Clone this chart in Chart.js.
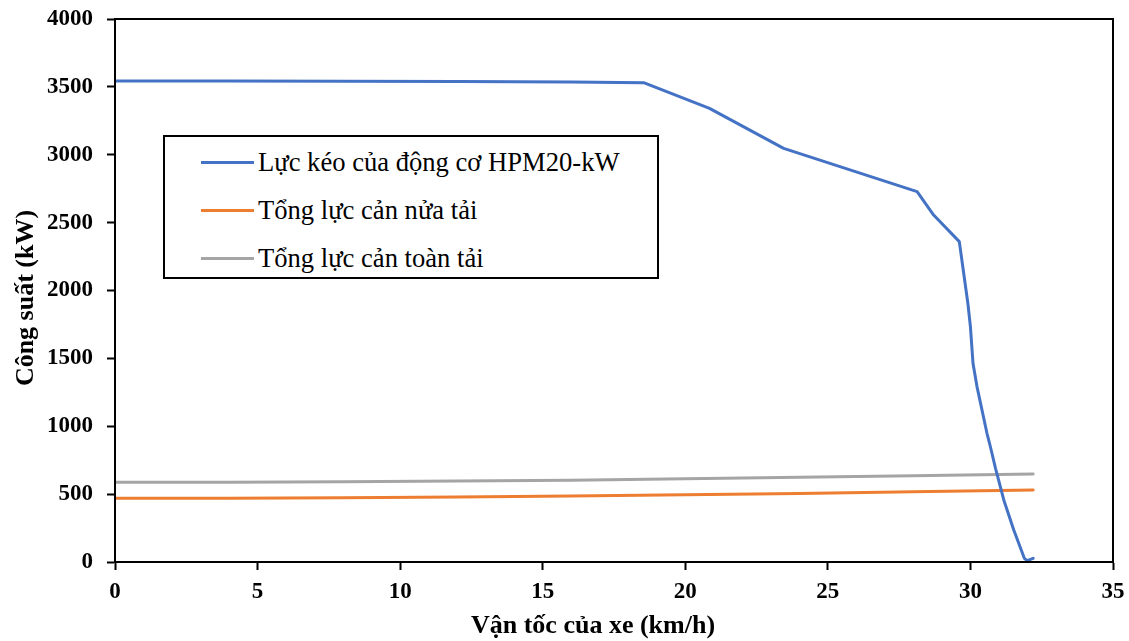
<!DOCTYPE html>
<html lang="vi">
<head>
<meta charset="utf-8">
<title>Công suất theo vận tốc của xe</title>
<script src="https://cdn.jsdelivr.net/npm/chart.js@4.4.1/dist/chart.umd.min.js"></script>
<style>
  html, body { margin: 0; padding: 0; background: #fff; }
  #wrap { position: relative; width: 1129px; height: 641px; }
  #chart { display: block; }
  #legend {
    position: absolute; left: 163px; top: 135px; width: 496px; height: 144px;
    box-sizing: border-box; border: 2px solid #000; background: #fff;
    font-family: "Liberation Serif", "Times New Roman", serif; font-size: 26.6px; color: #000;
  }
  .row { position: absolute; left: 0; height: 30px; }
  .swatch { position: absolute; left: 36px; width: 53px; height: 3px; }
  .label { position: absolute; left: 93px; white-space: nowrap; line-height: 30px; }
</style>
</head>
<body>
<div id="wrap">
  <canvas id="chart" width="1129" height="641"></canvas>
  <div id="legend"></div>
</div>
<script>
// Motor traction curve (km/h, kW)
const tractionSpeed = [0, 4, 8, 12, 16, 18.54, 20.85, 23.45, 28.13, 28.71, 29.61, 29.91, 30.0, 30.09, 30.23, 30.58, 30.70, 30.88, 31.17, 31.52, 31.89, 31.99, 32.2];
const tractionPower = [3543, 3543, 3542, 3540, 3536, 3531, 3342, 3047, 2728, 2556, 2360, 1906, 1733, 1464, 1292, 948, 849, 690, 457, 236, 27, 10, 27];

// Total resistance, half load and full load
const resistSpeed = [0, 4, 8, 12, 16, 20, 24, 28, 32.2];
const resistHalf = [469, 470, 474, 479, 486, 495, 505, 517, 530];
const resistFull = [587, 588, 592, 597, 603, 613, 624, 636, 648];

const seriesNames = ['Lực kéo của động cơ HPM20-kW', 'Tổng lực cản nửa tải', 'Tổng lực cản toàn tải'];
const seriesColors = ['#4472C4', '#ED7D31', '#A5A5A5'];

const xTitle = 'Vận tốc của xe (km/h)';
const yTitle = 'Công suất (kW)';

const pairs = (xs, ys) => xs.map((x, i) => ({ x: x, y: ys[i] }));

const tickFont = { family: 'Liberation Serif', size: 23, weight: 'bold' };
const titleFont = 'bold 26px "Liberation Serif"';

// Box around the plot area plus the two axis titles
const framePlugin = {
  id: 'frame',
  afterDraw(chart) {
    const { ctx, chartArea: a } = chart;
    ctx.save();
    ctx.strokeStyle = '#000';
    ctx.lineWidth = 2;
    ctx.strokeRect(a.left, a.top, a.right - a.left, a.bottom - a.top);

    ctx.fillStyle = '#000';
    ctx.font = titleFont;
    ctx.textAlign = 'center';
    ctx.textBaseline = 'alphabetic';
    ctx.fillText(xTitle, 593, 633);

    ctx.translate(33, 298);
    ctx.rotate(-Math.PI / 2);
    ctx.fillText(yTitle, 0, 0);
    ctx.restore();
  }
};

const datasets = [
  { data: pairs(tractionSpeed, tractionPower) },
  { data: pairs(resistSpeed, resistHalf) },
  { data: pairs(resistSpeed, resistFull) }
].map((d, i) => Object.assign(d, {
  label: seriesNames[i],
  borderColor: seriesColors[i],
  backgroundColor: seriesColors[i],
  borderWidth: 3,
  pointRadius: 0,
  showLine: true,
  tension: 0,
  borderJoinStyle: 'round',
  borderCapStyle: 'round',
  fill: false
}));

const plainNumber = (v) => String(v);

// Fixed axis sizes; tick labels are allowed to sit in the outer margin
function fitX(scale) {
  scale.height = 79;
  scale.paddingLeft = 0;
  scale.paddingRight = 0;
}
function fitY(scale) {
  scale.width = 115;
  scale.paddingTop = 0;
  scale.paddingBottom = 0;
}

const chart = new Chart(document.getElementById('chart'), {
  type: 'scatter',
  data: { datasets: datasets },
  options: {
    responsive: false,
    animation: false,
    layout: { padding: { top: 19, right: 16, left: 0, bottom: 0 } },
    plugins: { legend: { display: false }, tooltip: { enabled: false } },
    scales: {
      x: {
        type: 'linear', min: 0, max: 35,
        afterFit: fitX,
        ticks: { stepSize: 5, color: '#000', font: tickFont, padding: 8, maxRotation: 0, callback: plainNumber },
        grid: { drawOnChartArea: false, drawTicks: true, tickLength: 8, tickColor: '#000', tickWidth: 2 },
        border: { color: '#000', width: 2 }
      },
      y: {
        type: 'linear', min: 0, max: 4000,
        afterFit: fitY,
        ticks: { stepSize: 500, color: '#000', font: tickFont, padding: 14, callback: plainNumber },
        grid: { drawOnChartArea: false, drawTicks: true, tickLength: 8, tickColor: '#000', tickWidth: 2 },
        border: { color: '#000', width: 2 }
      }
    }
  },
  plugins: [framePlugin]
});

// Legend built from the chart's datasets
const legend = document.getElementById('legend');
const rowCenters = [25, 73, 121];
chart.data.datasets.forEach((ds, i) => {
  const row = document.createElement('div');
  row.className = 'row';
  row.style.top = (rowCenters[i] - 15) + 'px';
  row.style.width = '100%';
  const sw = document.createElement('div');
  sw.className = 'swatch';
  sw.style.top = '13.5px';
  sw.style.background = ds.borderColor;
  const lb = document.createElement('div');
  lb.className = 'label';
  lb.style.top = '0px';
  lb.textContent = ds.label;
  row.appendChild(sw);
  row.appendChild(lb);
  legend.appendChild(row);
});
</script>
</body>
</html>
